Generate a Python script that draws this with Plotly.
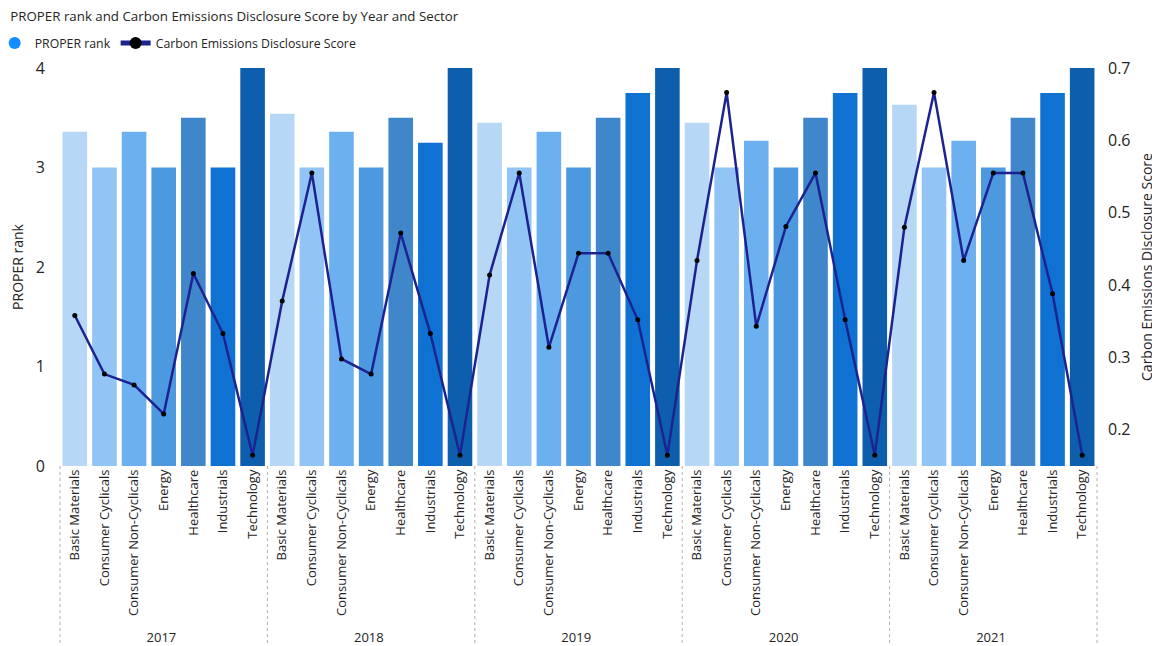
import plotly.graph_objects as go

years = ["2017", "2018", "2019", "2020", "2021"]
sectors = ["Basic Materials", "Consumer Cyclicals", "Consumer Non-Cyclicals",
           "Energy", "Healthcare", "Industrials", "Technology"]

proper_2017 = [3.36, 3.0, 3.36, 3.0, 3.5, 3.0, 4.0]
proper_2018 = [3.54, 3.0, 3.36, 3.0, 3.5, 3.25, 4.0]
proper_2019 = [3.45, 3.0, 3.36, 3.0, 3.5, 3.75, 4.0]
proper_2020 = [3.45, 3.0, 3.27, 3.0, 3.5, 3.75, 4.0]
proper_2021 = [3.63, 3.0, 3.27, 3.0, 3.5, 3.75, 4.0]

ced_2017 = [0.358, 0.277, 0.262, 0.222, 0.416, 0.333, 0.165]
ced_2018 = [0.378, 0.555, 0.298, 0.277, 0.472, 0.333, 0.165]
ced_2019 = [0.414, 0.555, 0.314, 0.444, 0.444, 0.352, 0.165]
ced_2020 = [0.434, 0.666, 0.343, 0.481, 0.555, 0.352, 0.165]
ced_2021 = [0.480, 0.666, 0.434, 0.555, 0.555, 0.388, 0.165]

proper = [proper_2017, proper_2018, proper_2019, proper_2020, proper_2021]
ced = [ced_2017, ced_2018, ced_2019, ced_2020, ced_2021]

sector_colors = ["#b6d7f6", "#92c5f5", "#6cb0f0", "#4c99e0", "#3f86cb", "#0f72d3", "#0d5fae"]

x_year, x_sector, y_bar, y_line, bar_cols = [], [], [], [], []
for yi, yr in enumerate(years):
    for si, s in enumerate(sectors):
        x_year.append(yr)
        x_sector.append(s)
        y_bar.append(proper[yi][si])
        y_line.append(ced[yi][si])
        bar_cols.append(sector_colors[si])

FONT = "Open Sans"
TXT = "#252423"

fig = go.Figure()
fig.add_trace(go.Bar(
    x=[x_year, x_sector], y=y_bar, marker=dict(color=bar_cols, line=dict(width=0)),
    name="PROPER rank", showlegend=False, hoverinfo="y",
))
fig.add_trace(go.Scatter(
    x=[None], y=[None], mode="markers", name="PROPER rank",
    marker=dict(color="#118DFF", size=9, symbol="circle"),
))
fig.add_trace(go.Scatter(
    x=[x_year, x_sector], y=y_line, yaxis="y2", mode="lines+markers",
    name="Carbon Emissions Disclosure Score",
    line=dict(color="#1c2390", width=2.5),
    marker=dict(color="#000000", size=5),
))

n_total = len(years) * len(sectors)
shapes = []
for k in range(len(years) + 1):
    xpos = k * len(sectors) / n_total
    shapes.append(dict(
        type="line", xref="x domain", yref="paper",
        x0=xpos, x1=xpos, y0=0, y1=-0.5,
        line=dict(color="#b0b0b0", width=1, dash="dot"),
    ))

fig.update_layout(
    width=1160, height=646,
    margin=dict(l=52, r=71, t=60, b=188, autoexpand=False),
    paper_bgcolor="white", plot_bgcolor="white",
    font=dict(family=FONT, color=TXT),
    title=dict(text="PROPER rank and Carbon Emissions Disclosure Score by Year and Sector",
               x=0.002, xref="container", xanchor="left", y=0.995, yref="container",
               yanchor="top", font=dict(size=13.3, color=TXT, family=FONT)),
    legend=dict(orientation="h", x=-0.063, xref="paper", y=0.946, yref="container",
                xanchor="left", yanchor="middle", font=dict(size=12.3, color=TXT),
                itemsizing="constant", tracegroupgap=0, itemwidth=30, bgcolor="rgba(0,0,0,0)"),
    bargap=0.17,
    shapes=shapes,
    xaxis=dict(type="multicategory", tickangle=-90, showgrid=False, showline=False,
               range=[-0.5, n_total - 0.5], automargin=False,
               ticks="", dividerwidth=0, dividercolor="rgba(0,0,0,0)",
               tickfont=dict(size=13, color=TXT, family=FONT)),
    yaxis=dict(range=[0, 4], dtick=1, showgrid=False, zeroline=False, automargin=False,
               ticklabelstandoff=14,
               title=dict(text="PROPER rank", font=dict(size=14, color=TXT), standoff=10),
               tickfont=dict(size=16, color=TXT)),
    yaxis2=dict(range=[0.15, 0.7], tick0=0.2, dtick=0.1, overlaying="y", side="right",
                showgrid=False, zeroline=False, automargin=False, ticklabelstandoff=10,
                title=dict(text="Carbon Emissions Disclosure Score", font=dict(size=14, color=TXT), standoff=12),
                tickfont=dict(size=16, color=TXT)),
)

fig.write_html("out.html")
